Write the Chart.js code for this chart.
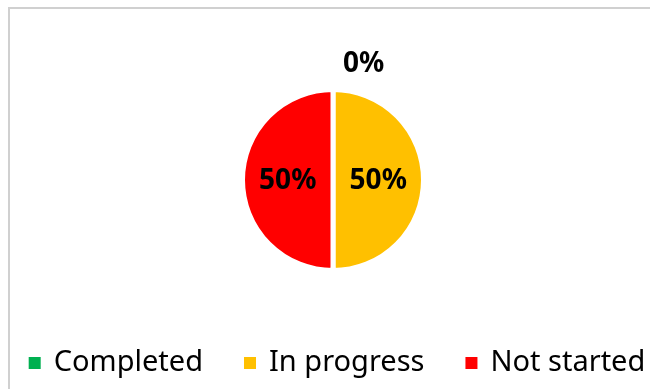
<!DOCTYPE html>
<html>
<head>
<meta charset="utf-8">
<script src="https://cdn.jsdelivr.net/npm/chart.js@4.4.0/dist/chart.umd.min.js"></script>
<style>
  html, body { margin: 0; padding: 0; background: #fff; overflow: hidden; }
  #frame {
    position: absolute; left: 8px; top: 7px;
    width: 680px; height: 420px;
    border: 2px solid #d0d0d0;
  }
  #wrap { position: absolute; left: 8px; top: 7px; width: 650px; height: 382px; }
</style>
</head>
<body>
<div id="frame"></div>
<div id="wrap"><canvas id="statusChart" width="650" height="382"></canvas></div>
<script>
// status breakdown
const statusLabels = ['Completed', 'In progress', 'Not started'];
const statusShare = [0, 50, 50];          // percent
const statusColors = ['#00B050', '#FFC000', '#FF0000'];

// draws the % label on each slice, zero slices go outside above the pie
const sliceLabels = {
  id: 'sliceLabels',
  afterDatasetsDraw(chart) {
    const { ctx } = chart;
    const meta = chart.getDatasetMeta(0);
    ctx.save();
    ctx.font = 'bold 28px "Noto Sans"';
    ctx.fillStyle = '#000';
    ctx.textBaseline = 'middle';
    meta.data.forEach((arc, i) => {
      const txt = statusShare[i] + '%';
      if (statusShare[i] > 0) {
        const p = arc.tooltipPosition();
        ctx.textAlign = 'center';
        ctx.fillText(txt, p.x, p.y + 1);
      } else {
        ctx.textAlign = 'left';
        ctx.fillText(txt, arc.x + 10, arc.y - arc.outerRadius - 25);
      }
    });
    ctx.restore();
  }
};

// single-row legend along the bottom (built-in one wraps at this font size)
const bottomLegend = {
  id: 'bottomLegend',
  afterDraw(chart) {
    const { ctx } = chart;
    const box = 12, textGap = 13, itemGap = 41;
    const y = 356;
    ctx.save();
    ctx.font = '29px "Noto Sans"';
    ctx.textBaseline = 'middle';
    const widths = statusLabels.map(l => ctx.measureText(l).width);
    let total = widths.reduce((s, w) => s + box + textGap + w, 0) + itemGap * (statusLabels.length - 1);
    let x = chart.width / 2 + 4 - total / 2;
    statusLabels.forEach((l, i) => {
      ctx.fillStyle = statusColors[i];
      ctx.fillRect(x, y - box / 2, box, box);
      ctx.fillStyle = '#000';
      ctx.textAlign = 'left';
      ctx.fillText(l, x + box + textGap, y);
      x += box + textGap + widths[i] + itemGap;
    });
    ctx.restore();
  }
};

const ctx = document.getElementById('statusChart').getContext('2d');
new Chart(ctx, {
  type: 'pie',
  data: {
    labels: statusLabels,
    datasets: [{
      data: statusShare,
      backgroundColor: statusColors,
      borderColor: '#ffffff',
      borderWidth: 5,
      radius: 90.5
    }]
  },
  options: {
    responsive: false,
    animation: false,
    layout: { padding: { top: 20, bottom: 56, left: 0, right: 0 } },
    plugins: {
      tooltip: { enabled: false },
      legend: { display: false }
    }
  },
  plugins: [sliceLabels, bottomLegend]
});
</script>
</body>
</html>
